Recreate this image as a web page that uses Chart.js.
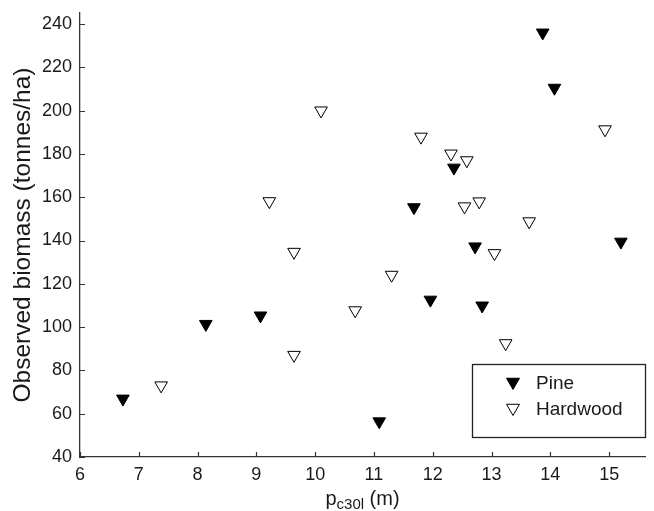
<!DOCTYPE html>
<html><head><meta charset="utf-8">
<script src="https://cdn.jsdelivr.net/npm/chart.js@4/dist/chart.umd.min.js"></script>
<style>html,body{margin:0;padding:0;background:#fff}#wrap{width:654px;height:511px;position:relative}canvas{display:block}</style>
</head><body><div id="wrap"><canvas id="c" width="654" height="511"></canvas></div>
<script>
const seriesLabels = ['Pine', 'Hardwood'];
const pineX = [6.73, 8.14, 9.07, 11.09, 11.68, 11.96, 12.36, 12.72, 12.84, 13.87, 14.07, 15.20];
const pineY = [66.9, 101.4, 105.3, 56.4, 155.3, 112.6, 173.6, 137.2, 109.9, 236.0, 210.5, 139.4];
const hardX = [7.38, 9.22, 9.64, 9.64, 10.10, 10.68, 11.30, 11.80, 12.31, 12.54, 12.58, 12.79, 13.05, 13.24, 13.64, 14.93];
const hardY = [73.0, 158.1, 134.7, 87.1, 200.0, 107.7, 124.1, 187.9, 180.1, 155.7, 177.0, 158.0, 134.1, 92.5, 148.8, 191.3];
const xTicks = [6, 7, 8, 9, 10, 11, 12, 13, 14, 15];
const yTicks = [40, 60, 80, 100, 120, 140, 160, 180, 200, 220, 240];
const xRange = [6, 15.61];
const yRange = [40, 245.1];
const xTitleMain = 'p', xTitleSub = 'c30l', xTitleUnit = ' (m)';
const yTitle = 'Observed biomass (tonnes/ha)';

const INK = '#1a1a1a';
const FONT = '"Liberation Sans", Arial, Helvetica, sans-serif';

function pts(xs, ys) { return xs.map((x, i) => ({ x: x, y: ys[i] })); }

function triDown(ctx, x, y, r, fill) {
  ctx.beginPath();
  ctx.moveTo(x, y + r);
  ctx.lineTo(x - Math.sin(Math.PI * 2 / 3) * r, y - 0.5 * r);
  ctx.lineTo(x + Math.sin(Math.PI * 2 / 3) * r, y - 0.5 * r);
  ctx.closePath();
  ctx.fillStyle = fill;
  ctx.fill();
  ctx.lineWidth = 1;
  ctx.strokeStyle = '#000';
  ctx.stroke();
}

const innerTicks = {
  id: 'innerTicks',
  afterDraw(chart) {
    const ctx = chart.ctx, a = chart.chartArea;
    const xs = chart.scales.x, ys = chart.scales.y;
    ctx.save();
    ctx.strokeStyle = '#333';
    ctx.lineWidth = 1.2;
    ctx.beginPath();
    xs.ticks.forEach(t => {
      const px = Math.round(xs.getPixelForValue(t.value)) + 0.5;
      ctx.moveTo(px, a.bottom); ctx.lineTo(px, a.bottom - 5);
    });
    ys.ticks.forEach(t => {
      const py = Math.round(ys.getPixelForValue(t.value)) + 0.5;
      ctx.moveTo(a.left, py); ctx.lineTo(a.left + 5, py);
    });
    ctx.stroke();
    ctx.restore();
  }
};

const boxLegend = {
  id: 'boxLegend',
  afterDraw(chart) {
    const ctx = chart.ctx, a = chart.chartArea;
    const w = 173, h = 73;
    const x0 = a.right - w, y0 = a.bottom - 20 - h;
    ctx.save();
    ctx.fillStyle = '#fff';
    ctx.fillRect(x0, y0, w, h);
    ctx.strokeStyle = '#222';
    ctx.lineWidth = 1.3;
    ctx.strokeRect(x0 + 0.5, y0 + 0.5, w, h);
    chart.data.datasets.forEach((ds, i) => {
      const cy = y0 + 19 + i * 26;
      triDown(ctx, x0 + 41, cy - 1, 7.5, ds.backgroundColor);
      ctx.fillStyle = INK;
      ctx.font = '19px ' + FONT;
      ctx.textAlign = 'left';
      ctx.textBaseline = 'middle';
      ctx.fillText(ds.label, x0 + 64, cy + 1);
    });
    ctx.restore();
  }
};

const xTitlePlugin = {
  id: 'xTitlePlugin',
  afterDraw(chart) {
    const ctx = chart.ctx, a = chart.chartArea;
    ctx.save();
    ctx.fillStyle = INK;
    ctx.textBaseline = 'alphabetic';
    ctx.textAlign = 'left';
    const fMain = '20px ' + FONT, fSub = '15px ' + FONT;
    ctx.font = fMain; const w1 = ctx.measureText(xTitleMain).width;
    const w3 = ctx.measureText(xTitleUnit).width;
    ctx.font = fSub; const w2 = ctx.measureText(xTitleSub).width;
    const total = w1 + w2 + w3;
    let x = (a.left + a.right) / 2 - total / 2;
    const base = chart.height - 6;
    ctx.font = fMain; ctx.fillText(xTitleMain, x, base); x += w1;
    ctx.font = fSub; ctx.fillText(xTitleSub, x, base + 4); x += w2;
    ctx.font = fMain; ctx.fillText(xTitleUnit, x, base);
    ctx.restore();
  }
};

new Chart(document.getElementById('c'), {
  type: 'scatter',
  data: {
    datasets: [
      { label: seriesLabels[0], data: pts(pineX, pineY), pointStyle: 'triangle', rotation: 180,
        pointRadius: 7.3, pointHoverRadius: 7.3, backgroundColor: '#000', borderColor: '#000', borderWidth: 1 },
      { label: seriesLabels[1], data: pts(hardX, hardY), pointStyle: 'triangle', rotation: 180,
        pointRadius: 7.3, pointHoverRadius: 7.3, backgroundColor: '#fff', borderColor: '#000', borderWidth: 1 }
    ]
  },
  options: {
    responsive: false,
    animation: false,
    devicePixelRatio: 1,
    layout: { padding: { left: 0, right: 9, top: 13, bottom: 0 } },
    plugins: { legend: { display: false }, tooltip: { enabled: false } },
    scales: {
      x: {
        type: 'linear', min: xRange[0], max: xRange[1],
        afterBuildTicks: s => { s.ticks = xTicks.map(v => ({ value: v })); },
        afterFit: s => { s.height = 54; s.paddingLeft = 0; s.paddingRight = 0; },
        grid: { display: false, drawTicks: false },
        border: { display: true, color: '#333', width: 1.3 },
        ticks: { color: INK, font: { family: FONT, size: 18 }, padding: 7, maxRotation: 0,
                 callback: v => String(v) }
      },
      y: {
        type: 'linear', min: yRange[0], max: yRange[1],
        afterBuildTicks: s => { s.ticks = yTicks.map(v => ({ value: v })); },
        afterFit: s => { s.width = 80; s.paddingTop = 0; s.paddingBottom = 0; },
        grid: { display: false, drawTicks: false },
        border: { display: true, color: '#333', width: 1.3 },
        ticks: { color: INK, font: { family: FONT, size: 18 }, padding: 8, callback: v => String(v) },
        title: { display: true, text: yTitle, color: INK, font: { family: FONT, size: 24.5 }, padding: { top: 9, bottom: 0 } }
      }
    }
  },
  plugins: [innerTicks, boxLegend, xTitlePlugin]
});
</script>
</body></html>
